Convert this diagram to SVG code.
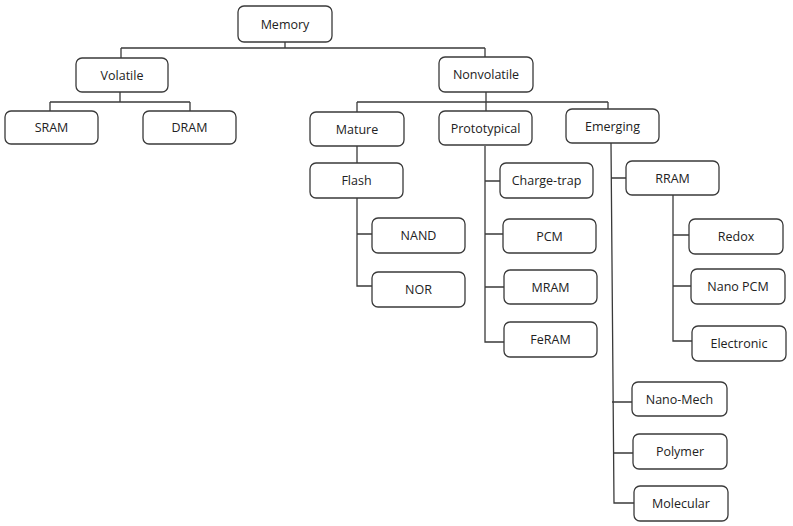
<svg xmlns="http://www.w3.org/2000/svg" width="793" height="526" viewBox="0 0 793 526">
<style>
.n rect{fill:#fff;stroke:#3a3a3a;stroke-width:1.3}
.n text{font-family:"Open Sans","Liberation Sans",sans-serif;font-size:12.5px;fill:#222;text-anchor:middle;dominant-baseline:central}
#connectors path{fill:none;stroke:#3a3a3a;stroke-width:1.3}
</style>
<rect width="793" height="526" fill="#fff"/>
<g id="connectors">
<path d="M285,42V48M121,48H485M121,48V58M485,48V57"/>
<path d="M120,92V102M50,102H190M50,102V111M190,102V111"/>
<path d="M486,92V102M357,102H608M357,102V112M486,102V112M608,102V109"/>
<path d="M357,146V163M357,198V286H372M357,234H372"/>
<path d="M485,146V342H504M485,181H500M485,234H503M485,287H504"/>
<path d="M611,143L614,503H634M611,178H626M612,402H632M613,453H633"/>
<path d="M673,195V341H692M673,235H689M673,286H691"/>
</g>
<g id="memory" class="n"><rect x="238" y="6" width="94" height="36" rx="6"/><text x="285" y="24">Memory</text></g>
<g id="volatile" class="n"><rect x="76" y="58" width="92" height="34" rx="6"/><text x="122" y="75">Volatile</text></g>
<g id="sram" class="n"><rect x="5" y="111" width="93" height="33" rx="6"/><text x="51.5" y="127.5">SRAM</text></g>
<g id="dram" class="n"><rect x="143" y="111" width="93" height="33" rx="6"/><text x="189.5" y="127.5">DRAM</text></g>
<g id="nonvolatile" class="n"><rect x="439" y="57" width="94" height="35" rx="6"/><text x="486" y="74.5">Nonvolatile</text></g>
<g id="mature" class="n"><rect x="310" y="112" width="94" height="34" rx="6"/><text x="357" y="129">Mature</text></g>
<g id="prototypical" class="n"><rect x="439" y="111" width="93" height="34" rx="6"/><text x="485.5" y="128">Prototypical</text></g>
<g id="emerging" class="n"><rect x="566" y="109" width="93" height="34" rx="6"/><text x="612.5" y="126">Emerging</text></g>
<g id="flash" class="n"><rect x="310" y="163" width="93" height="35" rx="6"/><text x="356.5" y="180.5">Flash</text></g>
<g id="nand" class="n"><rect x="372" y="218" width="93" height="35" rx="6"/><text x="418.5" y="235.5">NAND</text></g>
<g id="nor" class="n"><rect x="372" y="272" width="93" height="35" rx="6"/><text x="418.5" y="289.5">NOR</text></g>
<g id="chargetrap" class="n"><rect x="500" y="163" width="93" height="35" rx="6"/><text x="546.5" y="180.5">Charge-trap</text></g>
<g id="pcm" class="n"><rect x="503" y="219" width="93" height="34" rx="6"/><text x="549.5" y="236">PCM</text></g>
<g id="mram" class="n"><rect x="504" y="270" width="93" height="34" rx="6"/><text x="550.5" y="287">MRAM</text></g>
<g id="feram" class="n"><rect x="504" y="322" width="93" height="35" rx="6"/><text x="550.5" y="339.5">FeRAM</text></g>
<g id="rram" class="n"><rect x="626" y="161" width="93" height="34" rx="6"/><text x="672.5" y="178">RRAM</text></g>
<g id="redox" class="n"><rect x="689" y="219" width="94" height="35" rx="6"/><text x="736" y="236.5">Redox</text></g>
<g id="nanopcm" class="n"><rect x="691" y="269" width="94" height="35" rx="6"/><text x="738" y="286.5">Nano PCM</text></g>
<g id="electronic" class="n"><rect x="692" y="326" width="94" height="35" rx="6"/><text x="739" y="343.5">Electronic</text></g>
<g id="nanomech" class="n"><rect x="632" y="382" width="95" height="34" rx="6"/><text x="679.5" y="399">Nano-Mech</text></g>
<g id="polymer" class="n"><rect x="633" y="434" width="94" height="35" rx="6"/><text x="680" y="451.5">Polymer</text></g>
<g id="molecular" class="n"><rect x="634" y="486" width="94" height="35" rx="6"/><text x="681" y="503.5">Molecular</text></g>
</svg>
